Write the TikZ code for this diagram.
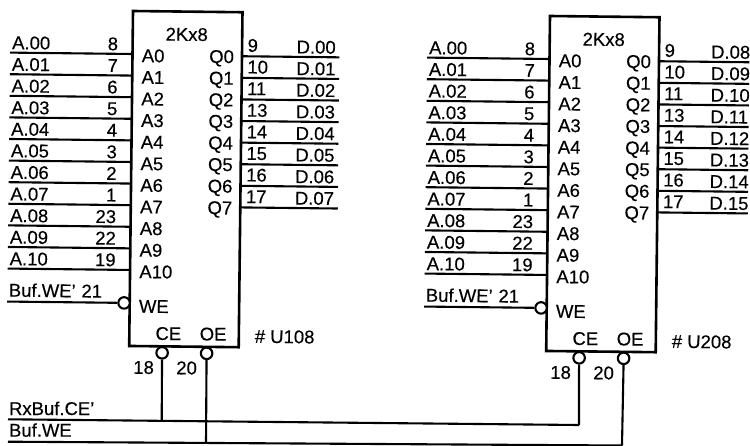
\documentclass[tikz,border=0pt]{standalone}
\usepackage{fontspec}
\setmainfont[FakeBold=0.3]{Liberation Sans}
\usepackage{tikz}

\begin{document}
\begin{tikzpicture}[x=1pt,y=-1pt,line width=2.1pt,
                    every node/.style={font=\fontsize{18.5}{20}\selectfont,inner sep=0pt},
                    chipbox/.style={draw,rectangle,minimum width=109.5pt,minimum height=335pt,outer sep=0pt,line width=2.6pt},
                    bubble/.style={draw,circle,minimum size=11.5pt,fill=white},
                    tag/.style={anchor=base west},
                    num/.style={anchor=base east},
                    mid/.style={anchor=base}]

	\useasboundingbox (0,0) rectangle (750,445);

	% the two memory chips only differ in where they sit and how far the data lines run
	\foreach \u/\cx/\cy/\dend/\dfirst/\dtag in {108/133/11/207/0/163,208/550/16/200/8/160.5} {
	\begin{scope}[shift={(\cx,\cy)},rotate=-0.65,transform shape]

		\node[chipbox] (u\u) at (54.75,167.5) {};
		\node[mid] (size\u) at (54,29.2) {2Kx8};
		\node[tag] (ref\u) at (124.5,330.4) {\# U\u};

		% address side
		\foreach \i/\lab/\pin in {0/00/8,1/01/7,2/02/6,3/03/5,4/04/4,5/05/3,6/06/2,7/07/1,8/08/23,9/09/22,10/10/19} {
			\coordinate (al\u\i) at (-122.5,43+21.6*\i);
			\coordinate (ar\u\i) at (0,43+21.6*\i);
			\node[tag] (as\u\i) at (-121.5,39.5+21.6*\i) {A.\lab};
			\node[num] (an\u\i) at (-13.5,39.5+21.6*\i) {\pin};
			\node[tag] (ap\u\i) at (8.3,51+21.6*\i) {A\i};
			\path (al\u\i) edge (ar\u\i);
		}

		% data side
		\foreach \i/\pin in {0/9,1/10,2/11,3/13,4/14,5/15,6/16,7/17} {
			\pgfmathtruncatemacro{\dn}{\i+\dfirst}
			\coordinate (dl\u\i) at (109.5,44+21.6*\i);
			\coordinate (dr\u\i) at (\dend,44+21.6*\i);
			\node[num] (dp\u\i) at (102.5,51+21.6*\i) {Q\i};
			\node[tag] (dn\u\i) at (114,39.5+21.6*\i) {\pin};
			\node[tag] (ds\u\i) at (\dtag,40.5+21.6*\i) {D.\ifnum\dn<10 0\fi\dn};
			\path (dl\u\i) edge (dr\u\i);
		}

		% control pins
		\coordinate (wl\u) at (-122.5,292);
		\node[bubble] (we\u) at (-5.6,292) {};
		\node[bubble] (ce\u) at (33,341.5) {};
		\node[bubble] (oe\u) at (77.5,341.5) {};
		\node[tag] (ws\u) at (-122,287) {Buf.WE'};
		\node[num] (wn\u) at (-26.7,287) {21};
		\node[tag] (wp\u) at (8.3,301.6) {WE};
		\node[mid] (cp\u) at (39,328.6) {CE};
		\node[mid] (op\u) at (83.8,328.6) {OE};
		\node[num] (cn\u) at (26,362.7) {18};
		\node[num] (on\u) at (69,362.7) {20};
		\path (wl\u) edge (we\u.west);

	\end{scope}
	}

	% shared lines along the bottom
	\coordinate (rxl) at (8,419.3);
	\coordinate (rxa) at (161.7,420.6);
	\coordinate (rxb) at (579,425);
	\coordinate (bwl) at (8,441.7);
	\coordinate (bwa) at (206,443.3);
	\coordinate (bwb) at (622,445.5);

	\node[tag] (rxs) at (8,415) {RxBuf.CE'};
	\node[tag] (bws) at (8,436.7) {Buf.WE};

	\path (rxl) edge (rxb);
	\path (bwl) edge (bwb);
	\path (ce108.south) edge (rxa);
	\path (oe108.south) edge (bwa);
	\path (ce208.south) edge (rxb);
	\path (oe208.south) edge (bwb);

\end{tikzpicture}
\end{document}
